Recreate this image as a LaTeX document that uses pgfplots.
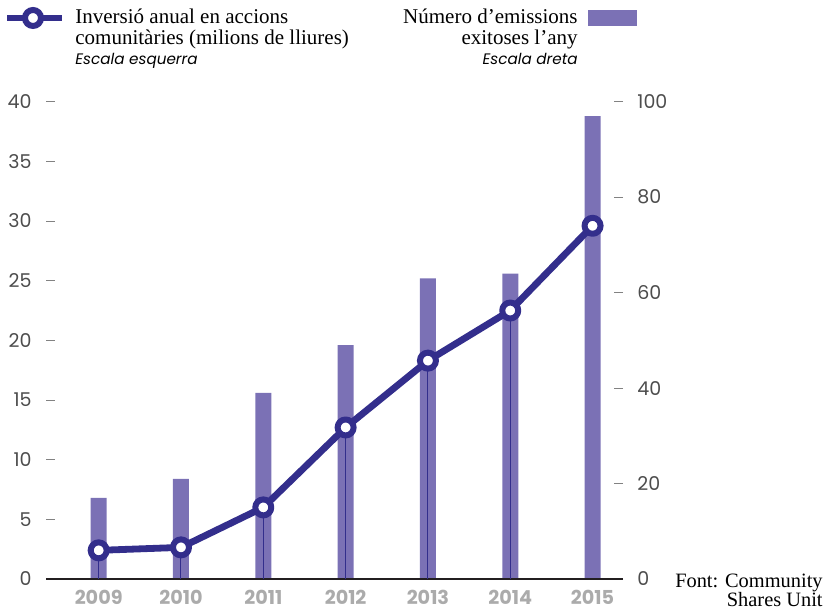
\documentclass[border=0pt]{standalone}
\usepackage{fontspec}
\setmainfont{Liberation Serif}
\newfontfamily\sansf{Poppins}
\usepackage{pgfplots}
\pgfplotsset{compat=1.18}

\definecolor{linecol}{HTML}{332E8C}
\definecolor{barcol}{HTML}{7B71B5}
\definecolor{basecol}{HTML}{231F20}
\definecolor{tickcol}{HTML}{4D4D4D}
\definecolor{yearcol}{HTML}{ABABAB}

\pgfplotsset{
  common/.style={
    at={(23pt,15pt)}, anchor=south west,
    scale only axis, width=288.5pt, height=238.65pt,
    xmin=2008.36, xmax=2015.37,
    tick align=inside, major tick length=4.5pt,
    ytick style={draw=tickcol!70, line width=0.4pt},
    /pgf/number format/assume math mode=true,
    yticklabel style={font=\sansf\fontsize{9.5}{10}\selectfont, color=tickcol, inner sep=0pt},
  }
}

\begin{document}
\begin{tikzpicture}
\useasboundingbox (0,0) rectangle (414pt,304.5pt);

% --- barres: escala dreta ---
\begin{axis}[common,
  ymin=0, ymax=100,
  axis x line=none, axis y line*=right,
  y axis line style={draw=none},
  ytick={0,20,...,100},
  yticklabel style={anchor=west, xshift=7pt}]
\addplot[ybar, bar width=8pt, fill=barcol, draw=none] coordinates {
  (2009,17) (2010,21) (2011,39) (2012,49) (2013,63) (2014,64) (2015,97)};
\end{axis}

% --- linia: escala esquerra ---
\begin{axis}[common,
  ymin=0, ymax=40,
  axis x line*=bottom, axis y line*=left,
  y axis line style={draw=none},
  x axis line style={-, line width=1pt, draw=basecol},
  xtick={2009,2010,2011,2012,2013,2014,2015},
  xticklabels={2009,2010,2011,2012,2013,2014,2015},
  xtick style={draw=none},
  xticklabel style={font=\sansf\bfseries\fontsize{9.6}{10}\selectfont, color=yearcol,
    inner sep=0pt, anchor=north, yshift=-5.5pt},
  ytick={0,5,...,40},
  yticklabel style={anchor=east, xshift=-7pt},
  clip=false]
\addplot[ycomb, line width=0.5pt, draw=linecol, mark=none] coordinates {
  (2009,2.4) (2010,2.65) (2011,6.0) (2012,12.7) (2013,18.3) (2014,22.5)};
\addplot[line width=3.4pt, draw=linecol, line join=round,
  mark=*, mark size=4pt, mark options={fill=white, draw=linecol, line width=3pt}] coordinates {
  (2009,2.4) (2010,2.65) (2011,6.0) (2012,12.7) (2013,18.3) (2014,22.5) (2015,29.6)};
\end{axis}

% --- llegenda esquerra ---
\draw[line width=3.4pt, draw=linecol] (3.5pt,295.5pt) -- (31pt,295.5pt);
\draw[line width=3pt, draw=linecol, fill=white] (16.5pt,295.5pt) circle (4pt);
\node[anchor=base west, inner sep=0pt, font=\fontsize{10.5}{10.5}\selectfont] at (37.5pt,292.5pt) {Inversió anual en accions};
\node[anchor=base west, inner sep=0pt, font=\fontsize{10.5}{10.5}\selectfont] at (37.5pt,282pt) {comunitàries (milions de lliures)};
\node[anchor=base west, inner sep=0pt, font=\sansf\itshape\fontsize{7.6}{8}\selectfont] at (37.5pt,272pt) {Escala esquerra};

% --- llegenda dreta ---
\fill[barcol] (294pt,291.5pt) rectangle (318.5pt,299.5pt);
\node[anchor=base east, inner sep=0pt, font=\fontsize{10.5}{10.5}\selectfont] at (289pt,292.5pt) {Número d’emissions};
\node[anchor=base east, inner sep=0pt, font=\fontsize{10.5}{10.5}\selectfont] at (289pt,282pt) {exitoses l’any};
\node[anchor=base east, inner sep=0pt, font=\sansf\itshape\fontsize{7.6}{8}\selectfont] at (289pt,272pt) {Escala dreta};

% --- font ---
\node[anchor=base east, inner sep=0pt, font=\fontsize{10.2}{10.2}\selectfont] at (411.5pt,10.8pt) {Font: Community};
\node[anchor=base east, inner sep=0pt, font=\fontsize{10.2}{10.2}\selectfont] at (411.5pt,1.5pt) {Shares Unit};

\end{tikzpicture}
\end{document}
